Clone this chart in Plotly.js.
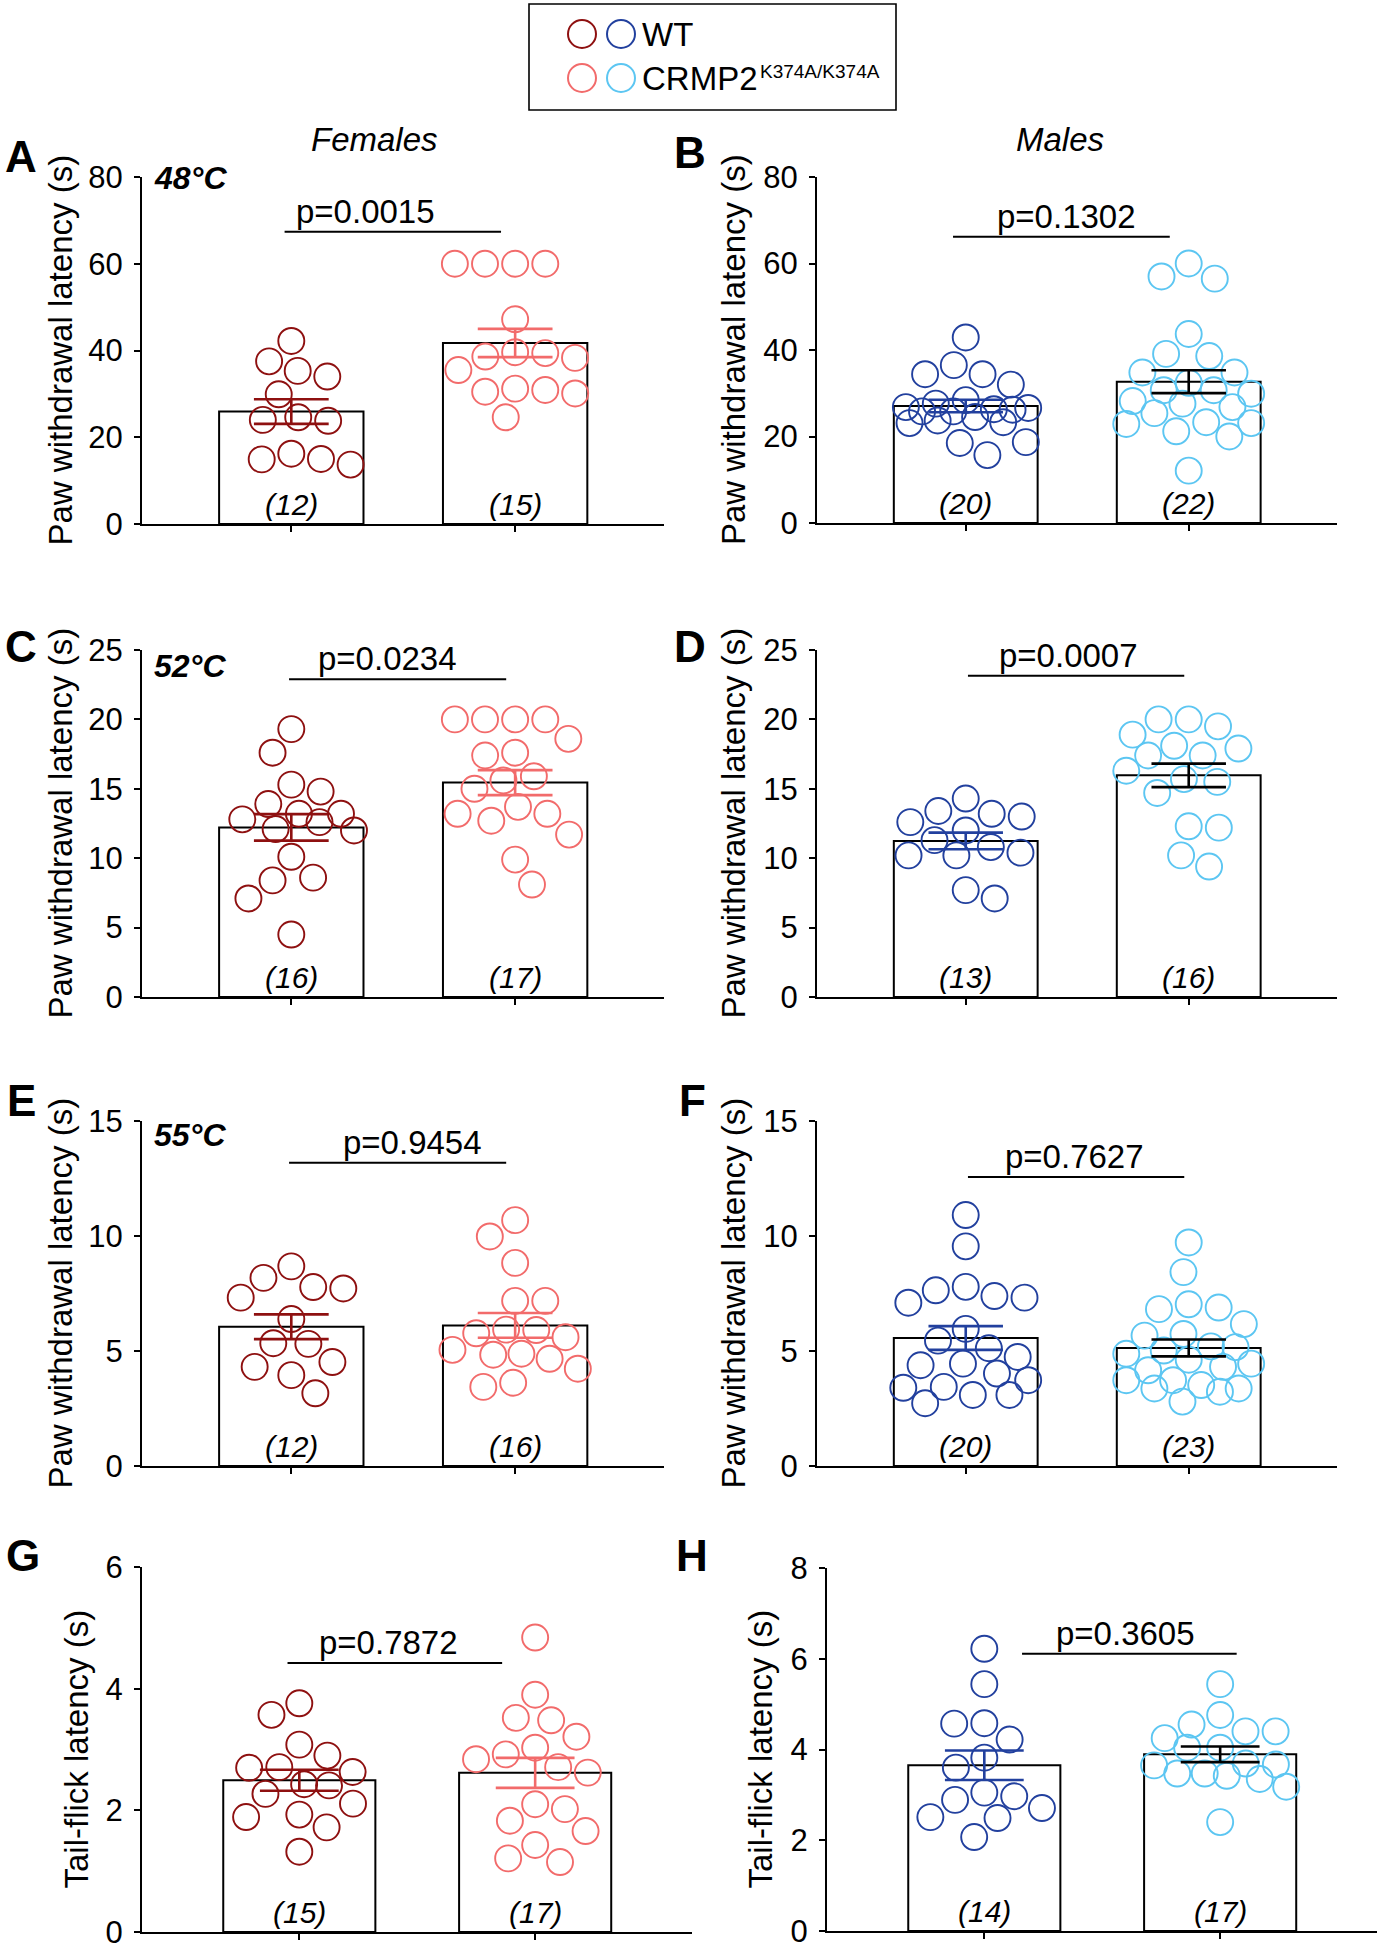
<!DOCTYPE html>
<html><head><meta charset="utf-8">
<script src="https://cdn.plot.ly/plotly-3.0.1.min.js"></script>
<style>html,body{margin:0;padding:0;background:#fff;} #chart{width:1380px;height:1952px;}</style>
</head><body><div id="chart"></div>
<script>
// ---------------- DATA ----------------
const groups = ['WT', 'CRMP2 K374A/K374A'];
// Hot plate 48°C, paw withdrawal latency (s)
const A_WT = [42.2, 34.0, 23.8, 13.7, 37.5, 29.9, 16.2, 35.3, 24.0, 15.0, 24.6, 14.9];
const A_KI = [60, 60, 60, 60, 47.2, 39.6, 38.3, 38.6, 39.4, 35.5, 30.1, 31.2, 30.5, 30.9, 24.6];
const B_WT = [42.9, 36.5, 34.4, 34.4, 32.0, 28.4, 27.6, 26.6, 26.8, 26.2, 26.3, 25.8, 23.1, 23.3, 23.7, 25.8, 18.5, 18.7, 15.7, 24.5];
const B_KI = [60.0, 56.5, 57.0, 43.7, 39.1, 38.6, 34.8, 34.8, 32.4, 29.9, 30.7, 30.7, 27.6, 26.8, 28.2, 25.4, 22.9, 23.3, 23.1, 20.0, 21.2, 12.1];
// Hot plate 52°C
const C_WT = [19.3, 17.6, 15.3, 14.8, 13.2, 13.9, 12.8, 13.2, 12.6, 12.0, 12.1, 10.1, 8.6, 8.4, 7.1, 4.5];
const C_KI = [20, 20, 20, 20, 18.6, 17.6, 17.4, 15.9, 15.6, 15.0, 13.7, 12.7, 13.2, 13.2, 11.7, 9.9, 8.1];
const D_WT = [14.3, 13.4, 13.0, 13.2, 12.6, 12.0, 11.3, 10.8, 10.2, 10.2, 10.4, 7.7, 7.1];
const D_KI = [20.0, 20.0, 19.5, 18.9, 18.1, 17.9, 17.4, 17.4, 16.3, 15.5, 15.7, 14.7, 12.2, 12.3, 10.2, 9.4];
// Hot plate 55°C
const E_WT = [8.68, 7.72, 7.78, 8.18, 7.32, 6.39, 5.34, 5.31, 4.52, 4.31, 3.95, 3.16];
const E_KI = [10.69, 9.98, 8.83, 7.18, 7.18, 5.93, 5.91, 5.77, 5.60, 5.05, 4.88, 4.84, 4.66, 4.23, 3.44, 3.62];
const F_WT = [10.91, 9.55, 7.79, 7.64, 7.32, 7.39, 7.10, 5.96, 5.45, 5.12, 4.74, 4.38, 4.45, 4.02, 3.73, 3.44, 3.40, 3.09, 3.09, 2.73];
const F_KI = [9.72, 8.43, 6.82, 7.03, 6.89, 6.17, 5.67, 5.74, 5.17, 5.20, 5.02, 4.62, 4.88, 4.31, 4.16, 3.37, 3.37, 3.73, 3.73, 3.52, 3.23, 2.80, 4.45];
// Tail flick latency (s)
const G_WT = [3.76, 3.57, 3.08, 2.90, 2.70, 2.63, 2.71, 2.41, 2.43, 2.27, 2.11, 1.89, 1.93, 1.72, 1.32];
const G_KI = [4.84, 3.90, 3.52, 3.48, 3.21, 3.03, 2.92, 2.84, 2.62, 2.71, 2.10, 2.02, 1.83, 1.66, 1.43, 1.15, 1.21];
const H_WT = [6.22, 5.44, 4.58, 4.57, 4.22, 3.82, 3.60, 2.89, 3.05, 2.97, 2.71, 2.49, 2.51, 2.07];
const H_KI = [5.44, 4.76, 4.55, 4.40, 4.40, 4.25, 4.04, 4.04, 3.69, 3.65, 3.67, 3.47, 3.18, 3.35, 3.47, 3.42, 2.40];

const pValues = ['p=0.0015', 'p=0.1302', 'p=0.0234', 'p=0.0007', 'p=0.9454', 'p=0.7627', 'p=0.7872', 'p=0.3605'];
const panelLetters = ['A', 'B', 'C', 'D', 'E', 'F', 'G', 'H'];
const yTitles = ['Paw withdrawal latency (s)', 'Tail-flick latency (s)'];
const tempLabels = ['48°C', '52°C', '55°C'];
const sexLabels = ['Females', 'Males'];
const yMax = [80, 80, 25, 25, 15, 15, 6, 8];
const yDtick = [20, 20, 5, 5, 5, 5, 2, 2];

// ---------------- STYLE / LAYOUT ----------------
const W = 1380, H = 1952;
const FONT = 'Liberation Sans, Arial, Helvetica, sans-serif';
const COL = { fWT: '#8E1010', fKI: '#F26B6B', mWT: '#22409E', mKI: '#5CC6F2' };
const XR = [-0.667, 1.665];
const BARW = 0.645;
const MSIZE = 26, MLINE = 1.9;
const MAXOFF = 0.28; // max horizontal spread of the scatter, in category units

const panels = [
  { wt: A_WT, ki: A_KI, sex: 'F', px: [142, 664], py: [177, 524], letter: [21, 156], titleX: 60, title: 0, temp: 0, tempY: 178, sig: { y: 67.4, x0: -0.03, x1: 0.937, tx: 0.333 } },
  { wt: B_WT, ki: B_KI, sex: 'M', px: [817, 1337], py: [177, 523], letter: [690, 153], titleX: 733, title: 0, sig: { y: 66.2, x0: -0.057, x1: 0.915, tx: 0.453 } },
  { wt: C_WT, ki: C_KI, sex: 'F', px: [142, 664], py: [650, 997], letter: [21, 646], titleX: 60, title: 0, temp: 1, tempY: 666, sig: { y: 22.9, x0: -0.01, x1: 0.96, tx: 0.43 } },
  { wt: D_WT, ki: D_KI, sex: 'M', px: [817, 1337], py: [650, 997], letter: [690, 646], titleX: 733, title: 0, sig: { y: 23.15, x0: 0.01, x1: 0.98, tx: 0.46 } },
  { wt: E_WT, ki: E_KI, sex: 'F', px: [142, 664], py: [1121, 1466], letter: [21, 1100], titleX: 60, title: 0, temp: 2, tempY: 1135, sig: { y: 13.18, x0: -0.01, x1: 0.96, tx: 0.54 } },
  { wt: F_WT, ki: F_KI, sex: 'M', px: [817, 1337], py: [1121, 1466], letter: [692, 1100], titleX: 733, title: 0, sig: { y: 12.56, x0: 0.01, x1: 0.98, tx: 0.49 } },
  { wt: G_WT, ki: G_KI, sex: 'F', px: [142, 692], py: [1567, 1932], letter: [23, 1555], titleX: 76, title: 1, sig: { y: 4.42, x0: -0.05, x1: 0.86, tx: 0.38 } },
  { wt: H_WT, ki: H_KI, sex: 'M', px: [827, 1377], py: [1568, 1931], letter: [692, 1555], titleX: 760, title: 1, sig: { y: 6.11, x0: 0.16, x1: 1.07, tx: 0.60 } }
];

function mean(a) { return a.reduce((s, v) => s + v, 0) / a.length; }
function sem(a) {
  const m = mean(a);
  const v = a.reduce((s, x) => s + (x - m) * (x - m), 0) / (a.length - 1);
  return Math.sqrt(v / a.length);
}
// deterministic beeswarm (px offsets), limited to +-maxPx; overlaps allowed only when unavoidable
function swarm(vals, pxPerY, D, maxPx) {
  const order = vals.map((v, i) => i).sort((a, b) => vals[b] - vals[a]);
  const placed = [];
  const off = new Array(vals.length).fill(0);
  let flip = -1;
  order.forEach(i => {
    const y = vals[i] * pxPerY;
    const iv = [];
    placed.forEach(p => {
      const dy = Math.abs(p.y - y);
      if (dy < D) { const dx = Math.sqrt(D * D - dy * dy); iv.push([p.x - dx, p.x + dx]); }
    });
    const cands = [0];
    iv.forEach(r => cands.push(r[0], r[1]));
    const ok = c => Math.abs(c) <= maxPx + 1e-6 && iv.every(r => c <= r[0] + 1e-6 || c >= r[1] - 1e-6);
    let best = null;
    cands.filter(ok).forEach(c => {
      if (best === null || Math.abs(c) < Math.abs(best) - 1e-6 ||
          (Math.abs(Math.abs(c) - Math.abs(best)) < 1e-6 && Math.sign(c) === flip)) best = c;
    });
    if (best === null) {
      let bestScore = -1;
      for (let s = 0; s <= 40; s++) {
        const c = -maxPx + (2 * maxPx * s) / 40;
        let score = Infinity;
        placed.forEach(p => { score = Math.min(score, Math.hypot(p.x - c, p.y - y)); });
        if (score > bestScore + 1e-6 || (Math.abs(score - bestScore) < 1e-6 && Math.abs(c) < Math.abs(best))) { bestScore = score; best = c; }
      }
    }
    if (Math.abs(best) > 1e-6) flip = -flip;
    off[i] = best;
    placed.push({ x: best, y: y });
  });
  return off;
}

const data = [], shapes = [], annotations = [];
const layout = {
  width: W, height: H, margin: { l: 0, r: 0, t: 0, b: 0 },
  paper_bgcolor: '#ffffff', plot_bgcolor: 'rgba(0,0,0,0)',
  showlegend: false, font: { family: FONT, color: '#000' }
};

const px2x = v => v / W;
const py2y = v => 1 - v / H;

panels.forEach((p, i) => {
  const k = i === 0 ? '' : String(i + 1);
  const xa = 'x' + k, ya = 'y' + k;
  const plotW = p.px[1] - p.px[0], plotH = p.py[1] - p.py[0];
  const pxPerX = plotW / (XR[1] - XR[0]);
  const pxPerY = plotH / yMax[i];

  layout['xaxis' + k] = {
    domain: [px2x(p.px[0]), px2x(p.px[1])], range: XR, anchor: ya,
    showline: true, linecolor: '#000', linewidth: 2, ticks: 'outside', ticklen: 6, tickwidth: 2, tickcolor: '#000',
    tickvals: [0, 1], ticktext: ['', ''], showgrid: false, zeroline: false, fixedrange: true
  };
  layout['yaxis' + k] = {
    domain: [py2y(p.py[1]), py2y(p.py[0])], range: [0, yMax[i]], anchor: xa,
    showline: true, linecolor: '#000', linewidth: 2, ticks: 'outside', ticklen: 6, tickwidth: 2, tickcolor: '#000',
    tick0: 0, dtick: yDtick[i], tickfont: { family: FONT, size: 31, color: '#000' }, ticklabelstandoff: 5,
    showgrid: false, zeroline: false, fixedrange: true
  };

  const cWT = p.sex === 'F' ? COL.fWT : COL.mWT;
  const cKI = p.sex === 'F' ? COL.fKI : COL.mKI;
  const eKI = p.sex === 'F' ? COL.fKI : '#000';
  const sets = [p.wt, p.ki];
  const means = sets.map(mean), sems = sets.map(sem);

  data.push({
    type: 'bar', x: [0, 1], y: means, width: BARW, name: 'mean', xaxis: xa, yaxis: ya,
    marker: { color: '#ffffff', line: { color: '#000', width: 2 } }, hoverinfo: 'skip', cliponaxis: false
  });
  [cWT, cKI].forEach((c, g) => {
    const off = swarm(sets[g], pxPerY, 1.08 * (MSIZE + MLINE), MAXOFF * pxPerX);
    data.push({
      type: 'scatter', mode: 'markers', name: groups[g], xaxis: xa, yaxis: ya, cliponaxis: false,
      x: off.map(o => g + o / pxPerX), y: sets[g],
      marker: { symbol: 'circle-open', size: MSIZE, color: c, line: { width: MLINE, color: c } }
    });
  });
  [cWT, eKI].forEach((c, g) => {
    data.push({
      type: 'scatter', mode: 'markers', xaxis: xa, yaxis: ya, cliponaxis: false, hoverinfo: 'skip',
      x: [g], y: [means[g]], marker: { size: 1, opacity: 0 },
      error_y: { type: 'data', array: [sems[g]], visible: true, color: c, thickness: 2.6, width: 0.167 * pxPerX }
    });
  });

  // significance bracket
  shapes.push({ type: 'line', xref: xa, yref: ya, x0: p.sig.x0, x1: p.sig.x1, y0: p.sig.y, y1: p.sig.y, line: { color: '#000', width: 2 } });
  annotations.push({ xref: xa, yref: ya, x: p.sig.tx, y: p.sig.y, yanchor: 'bottom', xanchor: 'center', yshift: 0,
    text: pValues[i], showarrow: false, font: { family: FONT, size: 33, color: '#000' } });
  // n labels
  sets.forEach((s, g) => annotations.push({ xref: xa, yref: ya, x: g, y: 0, yanchor: 'bottom', xanchor: 'center', yshift: 1,
    text: '<i>(' + s.length + ')</i>', showarrow: false, font: { family: FONT, size: 30, color: '#000' } }));
  // panel letter
  annotations.push({ xref: 'paper', yref: 'paper', x: px2x(p.letter[0]), y: py2y(p.letter[1]), xanchor: 'center', yanchor: 'middle',
    text: '<b>' + panelLetters[i] + '</b>', showarrow: false, font: { family: FONT, size: 44, color: '#000' } });
  // y title
  annotations.push({ xref: 'paper', yref: 'paper', x: px2x(p.titleX), y: py2y((p.py[0] + p.py[1]) / 2), xanchor: 'center', yanchor: 'middle',
    textangle: -90, text: yTitles[p.title], showarrow: false, font: { family: FONT, size: 33, color: '#000' } });
  // temperature label
  if (p.temp !== undefined) {
    annotations.push({ xref: 'paper', yref: 'paper', x: px2x(p.px[0] + 10), y: py2y(p.tempY), xanchor: 'left', yanchor: 'middle',
      text: '<b><i>' + tempLabels[p.temp] + '</i></b>', showarrow: false, font: { family: FONT, size: 32, color: '#000' } });
  }
});

// column headers
annotations.push({ xref: 'paper', yref: 'paper', x: px2x(374), y: py2y(139), xanchor: 'center', yanchor: 'middle',
  text: '<i>' + sexLabels[0] + '</i>', showarrow: false, font: { family: FONT, size: 33, color: '#000' } });
annotations.push({ xref: 'paper', yref: 'paper', x: px2x(1060), y: py2y(139), xanchor: 'center', yanchor: 'middle',
  text: '<i>' + sexLabels[1] + '</i>', showarrow: false, font: { family: FONT, size: 33, color: '#000' } });

// legend box
shapes.push({ type: 'rect', xref: 'paper', yref: 'paper', x0: px2x(529), x1: px2x(896), y0: py2y(4), y1: py2y(110), line: { color: '#000', width: 1.6 }, fillcolor: 'rgba(0,0,0,0)' });
const legRows = [[COL.fWT, COL.mWT, 34], [COL.fKI, COL.mKI, 78]];
legRows.forEach(r => {
  [582, 621].forEach((cx, j) => {
    shapes.push({ type: 'circle', xref: 'paper', yref: 'paper', x0: px2x(cx - 14), x1: px2x(cx + 14), y0: py2y(r[2] + 14), y1: py2y(r[2] - 14),
      line: { color: r[j], width: 2 }, fillcolor: 'rgba(0,0,0,0)' });
  });
});
annotations.push({ xref: 'paper', yref: 'paper', x: px2x(640), y: py2y(34), xanchor: 'left', yanchor: 'middle',
  text: 'WT', showarrow: false, font: { family: FONT, size: 33, color: '#000' } });
annotations.push({ xref: 'paper', yref: 'paper', x: px2x(640), y: py2y(78), xanchor: 'left', yanchor: 'middle',
  text: 'CRMP2', showarrow: false, font: { family: FONT, size: 33, color: '#000' } });
annotations.push({ xref: 'paper', yref: 'paper', x: px2x(758), y: py2y(72), xanchor: 'left', yanchor: 'middle',
  text: 'K374A/K374A', showarrow: false, font: { family: FONT, size: 19, color: '#000' } });

layout.shapes = shapes;
layout.annotations = annotations;
Plotly.newPlot('chart', data, layout, { staticPlot: true });
</script></body></html>
